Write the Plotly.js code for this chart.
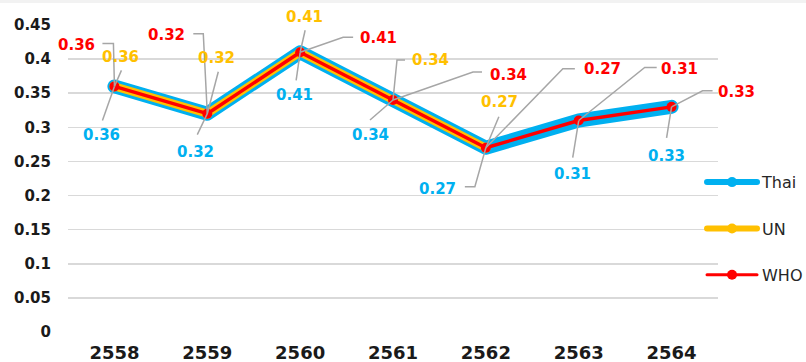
<!DOCTYPE html>
<html>
<head>
<meta charset="utf-8">
<script src="https://cdn.plot.ly/plotly-3.0.1.min.js"></script>
<style>
html,body{margin:0;padding:0;background:#fff;}
#chart{width:806px;height:362px;}
.scatterlayer .js-line{stroke-linejoin:round;stroke-linecap:round;}
.legend .js-line{stroke-linecap:round;}
</style>
</head>
<body>
<div id="chart"></div>
<script>
// ---- data ----
const years = [2558, 2559, 2560, 2561, 2562, 2563, 2564];
const thai = [0.36, 0.32, 0.41, 0.34, 0.27, 0.31, 0.33];
const un   = [0.36, 0.32, 0.41, 0.34, 0.27, null, null];
const who  = [0.36, 0.32, 0.41, 0.34, 0.27, 0.31, 0.33];
const seriesNames = ["Thai", "UN", "WHO"];
const yTicks = [0, 0.05, 0.1, 0.15, 0.2, 0.25, 0.3, 0.35, 0.4, 0.45];
const yTickText = ["0", "0.05", "0.1", "0.15", "0.2", "0.25", "0.3", "0.35", "0.4", "0.45"];

// ---- styling / label placement (screen pixel offsets from the point; +y is down) ----
const colors = {Thai: "#00B0F0", UN: "#FFC000", WHO: "#FF0000"};
const widths = {Thai: 14, UN: 8, WHO: 3.5};
const legendWidths = {Thai: 6, UN: 6, WHO: 3};
// [textDx, textDy, leaderPoints...]
const labelPos = {
  WHO: [
    [-38, -41, [[-12, -43], [-1, -43]]],
    [-41, -79, [[-14, -80], [-4, -80]]],
    [78, -14, [[53, -15], [43, -15]]],
    [115, -25, [[89, -28], [80, -28]]],
    [117, -79, [[89, -79], [77, -79]]],
    [101, -52, [[78, -53], [66, -53]]],
    [65, -15, [[41, -16], [31, -16]]]
  ],
  UN: [
    [6, -29, [[7, -16]]],
    [9, -56, [[11, -42]]],
    [4, -35, [[5, -22]]],
    [37, -40, [[12, -40], [4, -40]]],
    [14, -46, [[13, -31]]],
    null, null
  ],
  Thai: [
    [-13, 49, [[-12, 34]]],
    [-12, 38, [[-10, 21]]],
    [-6, 43, [[-4, 28]]],
    [-23, 35, [[-23, 20]]],
    [-48, 41, [[-21, 39], [-11, 39]]],
    [-6, 53, [[-6, 37]]],
    [-5, 49, [[-5, 31]]]
  ]
};

const dataBy = {Thai: thai, UN: un, WHO: who};

const traces = seriesNames.map((name, k) => ({
  type: "scatter",
  mode: "lines+markers",
  name: name,
  legendgroup: name,
  x: years,
  y: dataBy[name],
  line: {color: colors[name], width: widths[name]},
  marker: {color: colors[name], size: 10},
  connectgaps: false,
  hoverinfo: "skip"
}));

const annotations = [];
const shapes = [];
// thin light band at the very top
shapes.push({type: "rect", xref: "paper", yref: "paper", x0: -0.2, x1: 1.2,
  ysizemode: "pixel", yanchor: 1, y0: 22, y1: 27, fillcolor: "#f2f2f2", line: {width: 0}, layer: "below"});

["Thai", "UN", "WHO"].forEach(name => {
  const vals = dataBy[name];
  vals.forEach((v, i) => {
    const p = labelPos[name][i];
    if (v === null || !p) return;
    annotations.push({
      x: years[i], y: v, xref: "x", yref: "y",
      text: v.toFixed(2), showarrow: false,
      xshift: p[0], yshift: -p[1],
      xanchor: "center", yanchor: "middle",
      font: {family: "DejaVu Sans", size: 15, color: colors[name], weight: 700}
    });
    const pts = p[2];
    let d = "M" + pts[0][0] + "," + (-pts[0][1]);
    for (let j = 1; j < pts.length; j++) d += " L" + pts[j][0] + "," + (-pts[j][1]);
    d += " L0,0";
    shapes.push({
      type: "path", xref: "x", yref: "y",
      xsizemode: "pixel", ysizemode: "pixel",
      xanchor: years[i], yanchor: v,
      path: d, line: {color: "#A6A6A6", width: 1.5}, layer: "above"
    });
  });
});

const layout = {
  width: 806, height: 362,
  margin: {l: 68, r: 88, t: 25, b: 30, autoexpand: false},
  paper_bgcolor: "#ffffff", plot_bgcolor: "#ffffff",
  showlegend: true,
  legend: {
    xref: "container", yref: "container",
    x: 0.871, xanchor: "left", y: 0.5436, yanchor: "top",
    font: {family: "DejaVu Sans", size: 16, color: "#262626"},
    tracegroupgap: 22.5, itemwidth: 50,
    bgcolor: "rgba(0,0,0,0)"
  },
  xaxis: {
    range: [2557.5, 2564.5],
    tickmode: "array", tickvals: years, ticktext: years.map(String),
    showgrid: false, zeroline: false, showline: false, ticks: "",
    ticklabelstandoff: 8,
    tickfont: {family: "DejaVu Sans", size: 18, color: "#1a1a1a", weight: 700},
    fixedrange: true
  },
  yaxis: {
    range: [0, 0.45],
    tickmode: "array", tickvals: yTicks, ticktext: yTickText,
    showgrid: true, gridcolor: "#D9D9D9", gridwidth: 1.5,
    zeroline: false, showline: false, ticks: "",
    ticklabelstandoff: 16,
    tickfont: {family: "DejaVu Sans", size: 15, color: "#1a1a1a", weight: 700},
    fixedrange: true
  },
  annotations: annotations,
  shapes: shapes
};

Plotly.newPlot("chart", traces, layout, {staticPlot: true, displayModeBar: false}).then(gd => {
  // thinner symbol lines in the legend, as in the original
  const items = gd.querySelectorAll(".legend .traces");
  items.forEach((el, k) => {
    const name = seriesNames[k];
    el.querySelectorAll(".js-line").forEach(p => { p.style.strokeWidth = legendWidths[name] + "px"; });
  });
});
</script>
</body>
</html>
